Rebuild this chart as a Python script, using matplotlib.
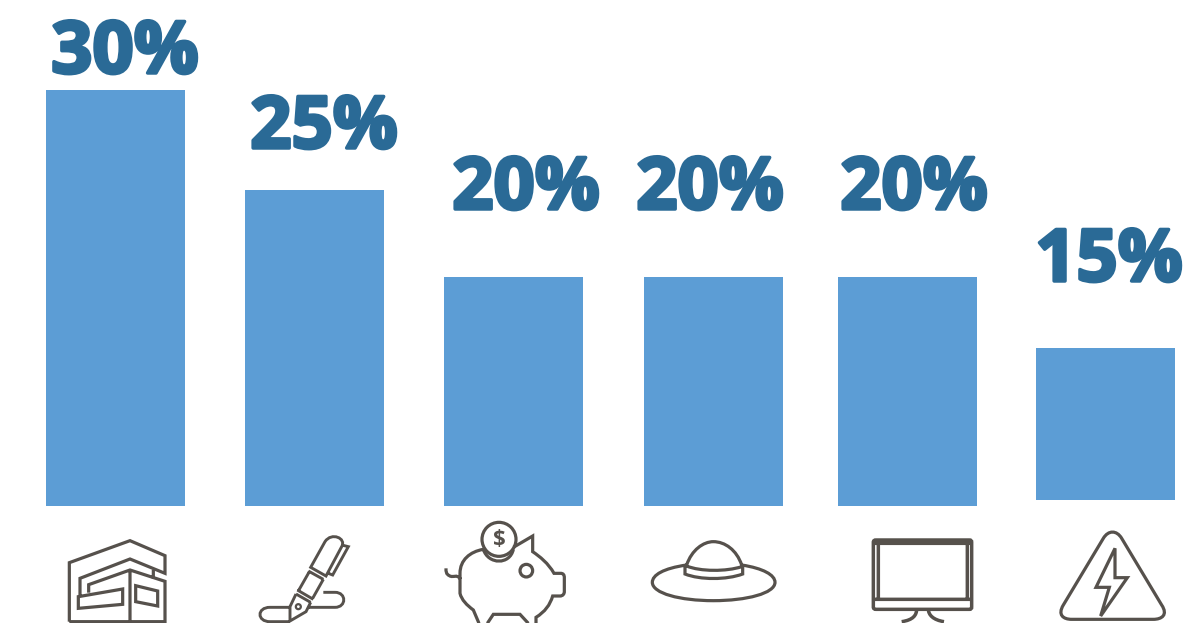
import numpy as np
from matplotlib import patheffects as pe
from matplotlib import pyplot as plt
from matplotlib.patches import Circle, PathPatch
from matplotlib.path import Path

values = [30, 25, 20, 20, 20, 15]
# the last bar floats slightly above the shared baseline
floors = [0, 0, 0, 0, 0, 0.57]

BAR_LEFT = [46, 245, 444, 644, 838, 1036]
BAR_WIDTH = 139
LABEL_XY = [(125, 73), (324, 148), (526, 209), (710, 209), (914, 209), (1109, 281)]

BAR_COLOR = '#5c9dd5'
LABEL_COLOR = '#2a6a96'
ICON_COLOR = '#56514c'

# bar heights are not linear in the value, so the axis uses a stretched scale
SCALE_VALUES = [0, 15, 20, 25, 30, 34.5]
SCALE_PIXELS = [0, 158, 229, 316, 416, 506]

BUILDING = """
M 88 335 L 88 158 L 270 92 L 375 137 L 375 190 L 270 147 L 120 205 L 120 258
M 146 248 L 146 224 L 270 180 L 375 214 L 375 335 L 88 335
M 270 180 L 270 335
M 340 180 L 340 205
M 115 260 L 248 237 L 248 283 L 115 295 Z
M 287 227 L 353 243 L 353 288 L 287 275 Z
"""
PEN = """
M 812 172 L 855 95 C 875 65 920 85 905 110 L 858 198 Z
M 905 105 L 925 110 L 878 195 L 865 190
M 805 183 L 850 208
M 808 185 L 775 243
M 850 208 L 818 265
M 772 240 L 820 268
M 768 252 L 812 277
M 768 252 L 750 290 L 750 333 L 798 305 L 812 277
M 750 292 L 690 292 C 650 292 650 335 690 335 L 750 335
M 850 247 L 885 247 C 920 247 920 292 885 292 L 806 292
"""
PIG = """
M 160 118 C 175 165 240 165 250 118
M 160 118 C 120 125 90 150 90 190 L 90 250 C 95 270 110 285 130 300 L 147 340
M 92 208 C 80 190 70 205 58 197 C 48 192 48 185 48 175
M 250 112 L 308 78 L 308 125 C 330 140 355 160 372 190 L 392 190 C 400 190 403 195 403 203
L 403 245 C 403 252 398 258 390 258 L 368 258 C 360 285 345 305 318 322 L 318 340
M 172 340 L 190 313 L 270 313 L 295 340
"""
HAT = """
M 770 165 C 700 175 667 195 667 217 C 667 250 750 272 850 272 C 950 272 1035 250 1035 217 C 1035 195 1000 175 935 165
M 770 165 C 785 120 820 95 850 95 C 885 95 920 120 935 165
M 765 165 L 765 192 C 810 210 890 210 938 192 L 938 165
M 770 168 C 810 185 890 185 935 170
"""
MONITOR = """
M 78 90 L 358 90 C 363 90 365 92 365 97 L 365 291 C 365 296 363 298 358 298 L 78 298 C 73 298 70 296 70 291 L 70 97 C 70 92 73 90 78 90 Z
M 155 335 C 190 330 200 315 200 297
M 282 335 C 250 330 235 315 235 297
M 72 268 L 363 268
M 72 100 L 363 100
M 85 100 L 85 265
M 352 100 L 352 265
"""
WARNING = """
M 760 85 C 775 60 800 60 815 85 L 935 285 C 955 315 935 328 910 328 L 665 328 C 640 328 622 315 640 285 Z
M 795 115 L 738 232 L 778 232 L 752 318 L 832 203 L 795 203 Z
"""


def forward(v):
    return np.interp(v, SCALE_VALUES, SCALE_PIXELS)


def inverse(p):
    return np.interp(p, SCALE_PIXELS, SCALE_VALUES)


def icon_path(spec, ox, oy):
    # small svg-like mini language, coordinates are at 3x and get scaled down
    verts, codes = [], []
    tokens = spec.split()
    i = 0
    while i < len(tokens):
        t = tokens[i]
        if t == 'Z':
            verts.append(verts[-1])
            codes.append(Path.CLOSEPOLY)
            i += 1
            continue
        n = 3 if t == 'C' else 1
        code = {'M': Path.MOVETO, 'L': Path.LINETO, 'C': Path.CURVE4}[t]
        for k in range(n):
            x = float(tokens[i + 1 + 2 * k])
            y = float(tokens[i + 2 + 2 * k])
            verts.append((ox + x / 3, oy + y / 3))
            codes.append(code)
        i += 1 + 2 * n
    return Path(verts, codes)


def draw_icon(ax, spec, ox, oy, lw=2.3):
    ax.add_patch(PathPatch(icon_path(spec, ox, oy), fill=False, edgecolor=ICON_COLOR,
                           lw=lw, joinstyle='miter', capstyle='butt'))


def draw_ring(ax, cx, cy, r, lw=2.3):
    ax.add_patch(Circle((cx, cy), r, fill=False, edgecolor=ICON_COLOR, lw=lw))


fig = plt.figure(figsize=(11.84, 6.23), dpi=100)

ax = fig.add_axes([0, 117 / 623, 1, 506 / 623])
ax.set_yscale('function', functions=(forward, inverse))
bar_x = [left + BAR_WIDTH / 2 for left in BAR_LEFT]
heights = [v - f for v, f in zip(values, floors)]
ax.bar(bar_x, heights, BAR_WIDTH, bottom=floors, color=BAR_COLOR)
ax.set_xlim(0, 1184)
ax.set_ylim(0, 34.5)
ax.axis('off')

# overlay in image pixels for the labels and the line icons
over = fig.add_axes([0, 0, 1, 1])
over.set_xlim(0, 1184)
over.set_ylim(623, 0)
over.axis('off')

for v, (x, y) in zip(values, LABEL_XY):
    over.text(x, y, f'{v}%', fontsize=52, fontfamily='Open Sans', fontweight='bold',
              color=LABEL_COLOR, ha='center', va='baseline',
              path_effects=[pe.withStroke(linewidth=2.5, foreground=LABEL_COLOR)])

draw_icon(over, BUILDING, 40, 510)
draw_icon(over, PEN, 40, 510, lw=2.1)
draw_ring(over, 40 + 775 / 3, 510 + 290 / 3, 2.5, lw=1.6)

draw_icon(over, PIG, 430, 510)
draw_ring(over, 430 + 207 / 3, 510 + 88 / 3, 17)
draw_ring(over, 430 + 289 / 3, 510 + 182 / 3, 6.3)
over.text(430 + 207 / 3, 510 + 89 / 3, '$', fontsize=16, fontweight='bold', color=ICON_COLOR,
          ha='center', va='center', fontfamily='Open Sans')

draw_icon(over, HAT, 430, 510)
draw_icon(over, MONITOR, 850, 510, lw=2.5)
draw_icon(over, WARNING, 850, 510)

fig.savefig('out.png', dpi=100)
